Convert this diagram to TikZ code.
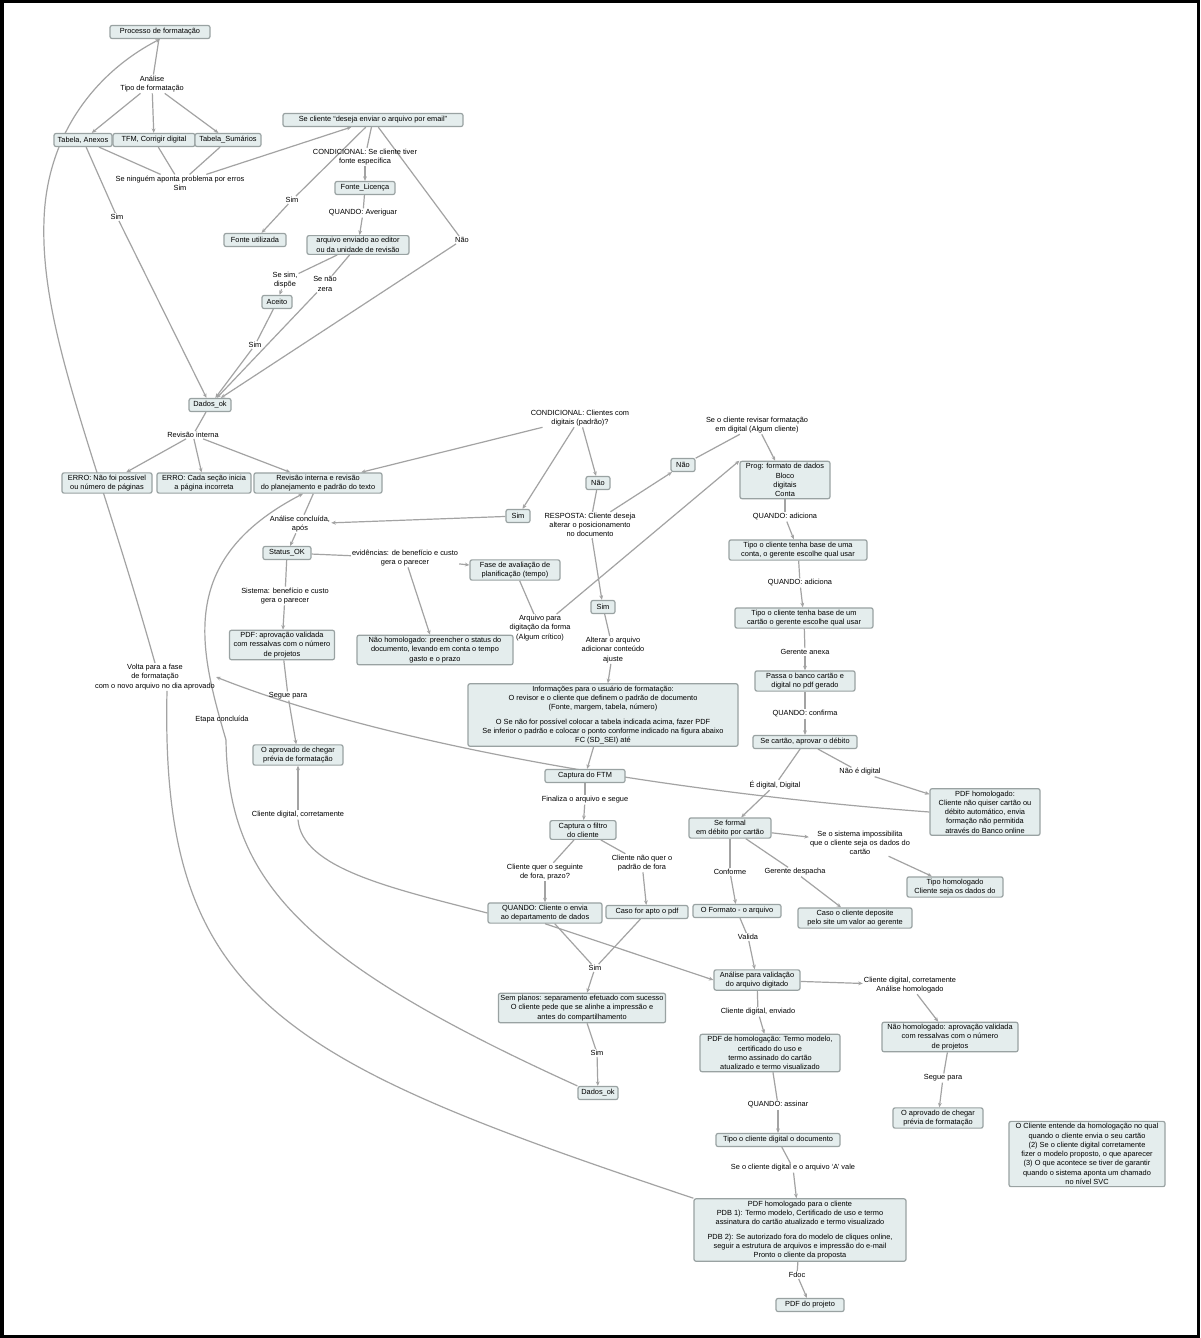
\documentclass[tikz,border=0pt]{standalone}
\usepackage{fontspec}
\setmainfont{Liberation Sans}
\usetikzlibrary{arrows.meta,backgrounds}
\definecolor{boxc}{HTML}{E4EDED}
\definecolor{bordc}{HTML}{99A2A2}
\definecolor{edgec}{HTML}{A3A3A3}
\newcommand\fsz{\fontsize{7.4}{9.3}\selectfont}
\tikzset{
  box/.style={draw=bordc, fill=boxc, rounded corners=2pt, line width=1.2pt, inner sep=2pt, align=center, font=\fsz, minimum height=13pt},
  lab/.style={inner sep=1pt, align=center, font=\fsz},
  edge/.style={draw=edgec, line width=1.2pt},
  arr/.style={edge, -{Stealth[length=4.5pt,width=3.8pt]}}
}
\begin{document}
\begin{tikzpicture}[x=1pt,y=-1pt]
\useasboundingbox (0,0) rectangle (1200,1338);

% ---------- top-left section
\node[box,minimum width=100pt] (n1) at (160,32) {Processo de formatação};
\node[lab] (l1) at (152,84) {Análise\\Tipo de formatação};
\node[box,minimum width=58pt] (b1) at (83,140) {Tabela, Anexos};
\node[box,minimum width=82pt] (b2) at (154,140) {TFM, Corrigir digital};
\node[box,minimum width=66pt] (b3) at (228,140) {Tabela\_Sumários};
\node[lab] (l2) at (180,183) {Se ninguém aponta problema por erros\\Sim};
\node[lab] (l3) at (117,217) {Sim};
\node[box,minimum width=180pt] (sc) at (373,120) {Se cliente “deseja enviar o arquivo por email”};
\node[lab] (l4) at (365,157) {CONDICIONAL: Se cliente tiver\\fonte específica};
\node[box,minimum width=60pt] (fonte) at (365,188) {Fonte\_Licença};
\node[lab] (l5) at (363,213) {QUANDO: Averiguar};
\node[box,minimum width=102pt] (arq) at (358,245) {arquivo enviado ao editor\\ou da unidade de revisão};
\node[lab] (l6) at (292,200) {Sim};
\node[box,minimum width=62pt] (fu) at (255,240) {Fonte utilizada};
\node[lab] (l7) at (462,240) {Não};
\node[lab] (l8) at (285,280) {Se sim,\\dispõe};
\node[lab] (l9) at (325,284) {Se não\\zera};
\node[box,minimum width=30pt] (aceito) at (277,302) {Aceito};
\node[lab] (l10) at (255,345) {Sim};
\node[box,minimum width=42pt] (dok1) at (210,405) {Dados\_ok};
\node[lab] (l11) at (193,435) {Revisão interna};
\node[box,minimum width=90pt] (c1) at (107,483) {ERRO: Não foi possível\\ou número de páginas};
\node[box,minimum width=94pt] (c2) at (204,483) {ERRO: Cada seção inicia\\a página incorreta};
\node[box,minimum width=128pt] (c3) at (318,483) {Revisão interna e revisão\\do planejamento e padrão do texto};

% ---------- middle section
\node[lab] (l12) at (580,418) {CONDICIONAL: Clientes com\\digitais (padrão)?};
\node[box,minimum width=24pt] (sim1) at (518,516) {Sim};
\node[box,minimum width=24pt] (nao1) at (598,483) {Não};
\node[lab] (l13) at (300,524) {Análise concluída,\\após};
\node[box,minimum width=48pt] (status) at (287,553) {Status\_OK};
\node[lab] (l14) at (405,558) {evidências: de benefício e custo\\gera o parecer};
\node[box,minimum width=90pt] (fase) at (515,570) {Fase de avaliação de\\planificação (tempo)};
\node[box,minimum width=156pt] (naohom) at (435,650) {Não homologado: preencher o status do\\documento, levando em conta o tempo\\gasto e o prazo};
\node[lab] (l15) at (285,596) {Sistema: benefício e custo\\gera o parecer};
\node[box,minimum width=105pt] (pdfnh1) at (282,645) {PDF: aprovação validada\\com ressalvas com o número\\de projetos};
\node[lab] (l16) at (288,696) {Segue para};
\node[box,minimum width=90pt] (apr1) at (298,755) {O aprovado de chegar\\prévia de formatação};
\node[lab] (l17) at (222,720) {Etapa concluída};
\node[lab] (l18) at (155,677) {Volta para a fase\\de formatação\\com o novo arquivo no dia aprovado};
\node[lab] (l19) at (298,815) {Cliente digital, corretamente};
\node[lab] (l20) at (540,628) {Arquivo para\\digitação da forma\\(Algum crítico)};
\node[lab] (l21) at (590,525) {RESPOSTA: Cliente deseja\\alterar o posicionamento\\no documento};
\node[box,minimum width=24pt] (nao2) at (683,465) {Não};
\node[lab] (l22) at (757,425) {Se o cliente revisar formatação\\em digital (Algum cliente)};
\node[box,minimum width=90pt] (prog) at (785,480) {Prog: formato de dados\\Bloco\\digitais\\Conta};
\node[box,minimum width=24pt] (sim2) at (603,607) {Sim};
\node[lab] (l23) at (613,650) {Alterar o arquivo\\adicionar conteúdo\\ajuste};
\node[box,minimum width=270pt] (big) at (603,715) {Informações para o usuário de formatação:\\O revisor e o cliente que definem o padrão de documento\\(Fonte, margem, tabela, número)\\[5pt]O Se não for possível colocar a tabela indicada acima, fazer PDF\\Se inferior o padrão e colocar o ponto conforme indicado na figura abaixo\\FC (SD\_SEI) até};
\node[box,minimum width=80pt] (cap) at (585,776) {Captura do FTM};
\node[lab] (l30) at (585,800) {Finaliza o arquivo e segue};
\node[box,minimum width=66pt] (capf) at (583,830) {Captura o filtro\\do cliente};
\node[lab] (l31) at (545,872) {Cliente quer o seguinte\\de fora, prazo?};
\node[lab] (l32) at (642,863) {Cliente não quer o\\padrão de fora};
\node[box,minimum width=114pt] (qd) at (545,913) {QUANDO: Cliente o envia\\ao departamento de dados};
\node[box,minimum width=82pt] (apto) at (647,912) {Caso for apto o pdf};
\node[lab] (l33) at (595,968) {Sim};
\node[box,minimum width=162pt] (sem) at (582,1008) {Sem planos: separamento efetuado com sucesso\\O cliente pede que se alinhe a impressão e\\antes do compartilhamento};
\node[lab] (l34) at (597,1053) {Sim};
\node[box,minimum width=40pt] (dok2) at (598,1093) {Dados\_ok};

% ---------- right section
\node[lab] (l24) at (785,517) {QUANDO: adiciona};
\node[box,minimum width=138pt] (t1) at (798,550) {Tipo o cliente tenha base de uma\\conta, o gerente escolhe qual usar};
\node[lab] (l25) at (800,583) {QUANDO: adiciona};
\node[box,minimum width=138pt] (t2) at (804,618) {Tipo o cliente tenha base de um\\cartão o gerente escolhe qual usar};
\node[lab] (l26) at (805,652) {Gerente anexa};
\node[box,minimum width=100pt] (t3) at (805,681) {Passa o banco cartão e\\digital no pdf gerado};
\node[lab] (l27) at (805,714) {QUANDO: confirma};
\node[box,minimum width=104pt] (t4) at (805,742) {Se cartão, aprovar o débito};
\node[lab] (l28) at (775,785) {É digital, Digital};
\node[lab] (l29) at (860,772) {Não é digital};
\node[box,minimum width=110pt] (pdfh) at (985,812) {PDF homologado:\\Cliente não quiser cartão ou\\débito automático, envia\\formação não permitida\\através do Banco online};
\node[box,minimum width=82pt] (sf) at (730,828) {Se formal\\em débito por cartão};
\node[lab] (l35) at (860,843) {Se o sistema impossibilita\\que o cliente seja os dados do\\cartão};
\node[box,minimum width=96pt] (tipoh) at (955,887) {Tipo homologado\\Cliente seja os dados do};
\node[lab] (l36) at (730,872) {Conforme};
\node[lab] (l37) at (795,872) {Gerente despacha};
\node[box,minimum width=88pt] (fmt) at (737,911) {O Formato - o arquivo};
\node[box,minimum width=114pt] (caso) at (855,918) {Caso o cliente deposite\\pelo site um valor ao gerente};
\node[lab] (l38) at (748,937) {Valida};
\node[box,minimum width=86pt] (anal) at (757,980) {Análise para validação\\do arquivo digitado};
\node[lab] (l39) at (910,985) {Cliente digital, corretamente\\Análise homologado};
\node[box,minimum width=136pt] (nh2) at (950,1037) {Não homologado: aprovação validada\\com ressalvas com o número\\de projetos};
\node[lab] (l41) at (943,1078) {Segue para};
\node[box,minimum width=90pt] (apr2) at (938,1118) {O aprovado de chegar\\prévia de formatação};
\node[lab] (l40) at (758,1012) {Cliente digital, enviado};
\node[box,minimum width=140pt] (pdfhm) at (770,1053) {PDF de homologação: Termo modelo,\\certificado do uso e\\termo assinado do cartão\\atualizado e termo visualizado};
\node[lab] (l42) at (778,1105) {QUANDO: assinar};
\node[box,minimum width=124pt] (tipoc) at (778,1140) {Tipo o cliente digital o documento};
\node[lab] (l43) at (793,1168) {Se o cliente digital e o arquivo ‘A’ vale};
\node[box,minimum width=212pt] (final) at (800,1230) {PDF homologado para o cliente\\PDB 1): Termo modelo, Certificado de uso e termo\\assinatura do cartão atualizado e termo visualizado\\[5pt]PDB 2): Se autorizado fora do modelo de cliques online,\\seguir a estrutura de arquivos e impressão do e-mail\\Pronto o cliente da proposta};
\node[lab] (l44) at (797,1275) {Fdoc};
\node[box,minimum width=68pt] (pdfp) at (810,1305) {PDF do projeto};
\node[box,minimum width=156pt] (nota) at (1087,1154) {O Cliente entende da homologação no qual\\quando o cliente envia o seu cartão\\(2) Se o cliente digital corretamente\\fizer o modelo proposto, o que aparecer\\(3) O que acontece se tiver de garantir\\quando o sistema aponta um chamado\\no nível SVC};

% ---------- connectors (behind the nodes)
\begin{scope}[on background layer]
\fill[white] (0,0) rectangle (1200,1338);
\draw[line width=3.5pt] (1.75,1.75) rectangle (1198.25,1336.25);
\draw[edge] (n1) -- (l1);
\draw[arr] (l1) -- (b1); \draw[arr] (l1) -- (b2); \draw[arr] (l1) -- (b3);
\draw[edge] (b1) -- (l2); \draw[edge] (b2) -- (l2); \draw[edge] (b3) -- (l2);
\draw[arr] (l2) -- (sc);
\draw[edge] (b1) -- (l3); \draw[arr] (l3) -- (dok1);
\draw[edge] (sc) -- (l4); \draw[arr] (l4) -- (fonte);
\draw[edge] (fonte) -- (l5); \draw[arr] (l5) -- (arq);
\draw[edge] (sc) -- (l6); \draw[arr] (l6) -- (fu);
\draw[edge] (sc) -- (l7); \draw[arr] (l7) -- (dok1);
\draw[edge] (arq) -- (l8); \draw[arr] (l8) -- (aceito);
\draw[edge] (arq) -- (l9); \draw[arr] (l9) -- (dok1);
\draw[edge] (aceito) -- (l10); \draw[arr] (l10) -- (dok1);
\draw[edge] (dok1) -- (l11);
\draw[arr] (l11) -- (c1); \draw[arr] (l11) -- (c2); \draw[arr] (l11) -- (c3);
\draw[arr] (l12) -- (c3);
\draw[arr] (l12) -- (sim1); \draw[arr] (l12) -- (nao1);
\draw[arr] (sim1) -- (l13);
\draw[edge] (c3) -- (l13); \draw[arr] (l13) -- (status);
\draw[edge] (status) -- (l14); \draw[arr] (l14) -- (fase); \draw[arr] (l14) -- (naohom);
\draw[edge] (status) -- (l15); \draw[arr] (l15) -- (pdfnh1);
\draw[edge] (pdfnh1) -- (l16); \draw[arr] (l16) -- (apr1);
\draw[edge] (nao1) -- (l21); \draw[arr] (l21) -- (sim2); \draw[arr] (l21) -- (nao2);
\draw[edge] (nao2) -- (l22); \draw[arr] (l22) -- (prog);
\draw[edge] (fase) -- (l20); \draw[arr] (l20) -- (prog.north west);
\draw[edge] (sim2) -- (l23); \draw[arr] (l23) -- (big);
\draw[arr] (big) -- (cap);
\draw[edge] (cap) -- (l30); \draw[arr] (l30) -- (capf);
\draw[edge] (capf) -- (l31); \draw[arr] (l31) -- (qd);
\draw[edge] (capf) -- (l32); \draw[arr] (l32) -- (apto);
\draw[edge] (qd) -- (l33); \draw[edge] (apto) -- (l33); \draw[arr] (l33) -- (sem);
\draw[edge] (sem) -- (l34); \draw[arr] (l34) -- (dok2);
\draw[arr] (qd.south) -- (anal.west);
\draw[edge] (qd.west) .. controls (390,888) and (302,868) .. (l19.south);
\draw[arr] (l19) -- (apr1);
\draw[edge] (prog) -- (l24); \draw[arr] (l24) -- (t1);
\draw[edge] (t1) -- (l25); \draw[arr] (l25) -- (t2);
\draw[edge] (t2) -- (l26); \draw[arr] (l26) -- (t3);
\draw[edge] (t3) -- (l27); \draw[arr] (l27) -- (t4);
\draw[edge] (t4) -- (l28); \draw[arr] (l28) -- (sf);
\draw[edge] (t4) -- (l29); \draw[arr] (l29) -- (pdfh);
\draw[arr] (sf) -- (l35); \draw[arr] (l35) -- (tipoh);
\draw[edge] (sf) -- (l36); \draw[arr] (l36) -- (fmt);
\draw[edge] (sf) -- (l37); \draw[arr] (l37) -- (caso);
\draw[edge] (fmt) -- (l38); \draw[arr] (l38) -- (anal);
\draw[arr] (anal) -- (l39); \draw[arr] (l39) -- (nh2);
\draw[edge] (nh2) -- (l41); \draw[arr] (l41) -- (apr2);
\draw[edge] (anal) -- (l40); \draw[arr] (l40) -- (pdfhm);
\draw[edge] (pdfhm) -- (l42); \draw[arr] (l42) -- (tipoc);
\draw[edge] (tipoc) -- (l43); \draw[arr] (l43) -- (final);
\draw[edge] (final) -- (l44); \draw[arr] (l44) -- (pdfp);
% long curves
\draw[edge] (final.north west) .. controls (280,1060) and (160,1000) .. ([xshift=12pt]l18.south);
\draw[arr] (l18.north) .. controls (95,450) and (40,330) .. (44,220) .. controls (47,130) and (100,70) .. (n1.south);
\draw[arr] (pdfh.west) .. controls (700,795) and (400,750) .. (l18.east);
\draw[arr] (dok2.north west) .. controls (300,960) and (228,880) .. (226,740) .. controls (200,650) and (175,560) .. ([xshift=-15pt]c3.south);
\end{scope}
\end{tikzpicture}
\end{document}
